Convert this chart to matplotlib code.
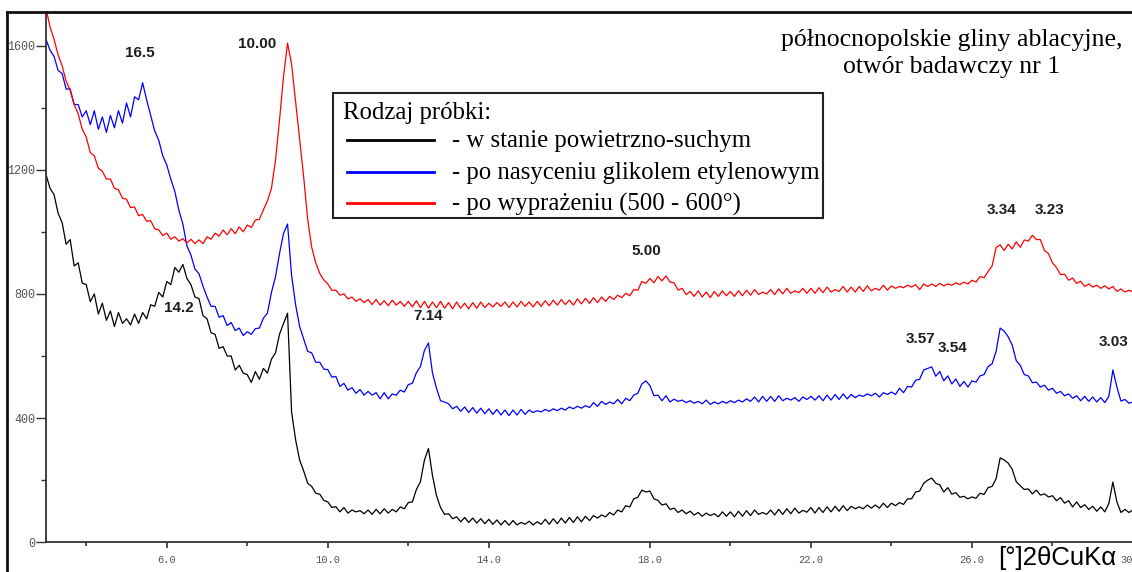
import numpy as np
import matplotlib
matplotlib.use("Agg")
from matplotlib import pyplot as plt
from matplotlib.lines import Line2D
from matplotlib.patches import Rectangle
from matplotlib.ticker import FixedLocator

# 2theta scan grid, 0.1 deg step
two_theta = np.round(np.arange(3.0, 30.05, 0.1), 1)

# air-dry sample (black)
air_dry = [
    1185, 1140, 1120, 1060, 1030, 960, 975, 890, 900, 835,
    830, 775, 800, 735, 770, 715, 745, 695, 740, 705,
    720, 700, 735, 705, 740, 720, 765, 760, 805, 790,
    840, 830, 885, 870, 895, 850, 830, 790, 785, 730,
    720, 675, 670, 625, 630, 600, 600, 555, 570, 545,
    540, 515, 550, 525, 560, 545, 590, 610, 670, 705,
    738, 420, 330, 265, 230, 190, 180, 158, 155, 135,
    130, 112, 115, 98, 112, 94, 104, 98, 102, 92,
    104, 90, 106, 92, 108, 94, 106, 98, 114, 108,
    128, 130, 170, 195, 265, 302, 215, 150, 112, 90,
    92, 76, 82, 66, 80, 64, 78, 62, 76, 60,
    74, 58, 72, 56, 70, 55, 70, 56, 64, 58,
    68, 56, 66, 58, 74, 58, 76, 60, 78, 62,
    80, 64, 82, 66, 84, 70, 86, 78, 88, 82,
    96, 88, 104, 98, 118, 114, 140, 145, 168, 162,
    165, 140, 135, 120, 124, 106, 110, 96, 104, 92,
    100, 88, 96, 84, 94, 86, 92, 82, 98, 84,
    98, 82, 100, 84, 102, 86, 104, 90, 96, 90,
    104, 88, 106, 90, 108, 92, 110, 94, 103, 97,
    112, 94, 112, 96, 114, 98, 116, 100, 118, 102,
    116, 108, 114, 108, 120, 110, 120, 110, 126, 112,
    126, 118, 128, 122, 140, 140, 162, 165, 190, 200,
    207, 190, 185, 162, 176, 155, 160, 145, 148, 140,
    146, 142, 158, 154, 176, 180, 205, 272, 265, 255,
    235, 195, 182, 170, 172, 156, 168, 152, 156, 146,
    150, 134, 144, 126, 134, 114, 130, 112, 121, 106,
    116, 100, 114, 98, 125, 194, 130, 96, 106, 96,
    104,
]

# ethylene glycol saturated (blue)
glycol = [
    1620, 1585, 1565, 1520, 1510, 1460, 1460, 1410, 1410, 1370,
    1390, 1345, 1390, 1330, 1370, 1320, 1375, 1335, 1390, 1350,
    1415, 1370, 1435, 1425, 1480, 1425, 1375, 1325, 1295, 1245,
    1215, 1170, 1130, 1070, 1025, 955, 925, 880, 865, 825,
    790, 760, 760, 725, 730, 698, 708, 682, 690, 666,
    678, 670, 688, 690, 722, 738, 805, 855, 930, 995,
    1025, 860, 765, 695, 655, 615, 610, 580, 580, 558,
    556, 532, 534, 502, 512, 490, 498, 480, 492, 474,
    486, 474, 482, 462, 482, 462, 478, 474, 490, 484,
    508, 512, 546, 566, 618, 642, 545, 496, 456, 452,
    446, 430, 438, 422, 436, 418, 434, 416, 432, 414,
    430, 412, 428, 410, 426, 408, 426, 410, 428, 412,
    426, 418, 424, 420, 428, 422, 430, 424, 432, 426,
    436, 430, 438, 432, 440, 434, 450, 438, 454, 444,
    452, 446, 460, 446, 464, 456, 474, 480, 510, 520,
    505, 472, 474, 456, 472, 452, 461, 454, 458, 450,
    456, 448, 454, 446, 458, 444, 452, 446, 454, 448,
    456, 450, 458, 452, 462, 454, 468, 452, 470, 454,
    470, 454, 472, 456, 464, 458, 466, 454, 468, 460,
    470, 458, 472, 456, 474, 458, 476, 460, 478, 462,
    476, 466, 474, 470, 478, 472, 480, 468, 482, 476,
    484, 476, 496, 482, 502, 500, 522, 525, 555, 560,
    565, 535, 550, 520, 536, 510, 526, 502, 518, 500,
    520, 516, 536, 540, 566, 575, 615, 690, 680, 662,
    635, 585, 570, 540, 536, 514, 516, 500, 506, 490,
    496, 480, 486, 472, 478, 464, 472, 456, 470, 454,
    468, 452, 466, 450, 470, 555, 500, 455, 460, 448,
    452,
]

# heated 500-600 C (red)
heated = [
    1720, 1660, 1620, 1570, 1535, 1485, 1455, 1410, 1380, 1330,
    1305, 1255, 1245, 1205, 1195, 1170, 1170, 1140, 1135, 1108,
    1105, 1078, 1080, 1052, 1056, 1034, 1036, 1010, 1006, 988,
    996, 976, 984, 970, 978, 964, 976, 962, 974, 962,
    984, 976, 996, 986, 1006, 990, 1010, 994, 1016, 1000,
    1022, 1014, 1038, 1040, 1071, 1100, 1140, 1230, 1360, 1500,
    1608, 1540, 1420, 1300, 1177, 1040, 950, 900, 866, 845,
    832, 812, 812, 796, 800, 784, 790, 776, 784, 772,
    782, 766, 782, 764, 778, 762, 780, 764, 776, 760,
    776, 758, 778, 756, 776, 754, 774, 756, 776, 754,
    772, 752, 774, 754, 770, 752, 772, 754, 774, 756,
    770, 758, 772, 760, 774, 756, 774, 758, 776, 760,
    774, 758, 776, 760, 778, 762, 780, 764, 782, 766,
    780, 764, 784, 768, 786, 770, 788, 772, 790, 776,
    792, 782, 796, 788, 802, 794, 814, 812, 840, 834,
    850, 836, 856, 842, 858, 838, 836, 812, 818, 798,
    808, 792, 810, 790, 806, 788, 808, 792, 810, 794,
    808, 792, 810, 794, 812, 796, 814, 798, 806, 800,
    814, 798, 816, 800, 818, 802, 810, 804, 818, 802,
    818, 802, 820, 804, 822, 806, 814, 808, 824, 806,
    822, 806, 824, 808, 826, 810, 818, 812, 828, 812,
    826, 818, 824, 820, 828, 822, 830, 814, 832, 824,
    832, 824, 834, 826, 832, 828, 836, 830, 838, 832,
    844, 838, 856, 852, 872, 890, 950, 958, 940, 960,
    945, 968, 950, 974, 970, 989, 975, 975, 940, 930,
    900, 885, 862, 864, 844, 851, 834, 841, 824, 832,
    822, 828, 818, 826, 816, 824, 808, 816, 806, 812,
    806,
]

peak_labels = ["16.5", "10.00", "14.2", "7.14", "5.00",
               "3.34", "3.23", "3.57", "3.54", "3.03"]
legend_title = "Rodzaj próbki:"
legend_labels = ["- w stanie powietrzno-suchym",
                 "- po nasyceniu glikolem etylenowym",
                 "- po wyprażeniu (500 - 600°)"]
colors = ["black", "blue", "red"]
x_major = [6, 10, 14, 18, 22, 26, 30]
x_minor = [4, 8, 12, 16, 20, 24, 28]
y_major = [0, 400, 800, 1200, 1600]
y_minor = [200, 600, 1000, 1400]

W, H = 1132, 572


def fx(px):
    return px / W


def fy(py):
    return 1 - py / H


fig = plt.figure(figsize=(W / 100, H / 100), dpi=100)

# outer frame (left and top edges visible)
fig.add_artist(Line2D([fx(7), fx(7)], [fy(12), 0], color="#111111", lw=2))
fig.add_artist(Line2D([fx(7), 1], [fy(12), fy(12)], color="#111111", lw=2))

ax = fig.add_axes([fx(46), fy(542.3), fx(1133) - fx(46), fy(12) - fy(542.3)])
ax.set_facecolor("none")

for ys, c in zip([air_dry, glycol, heated], colors):
    ax.plot(two_theta, ys, color=c, lw=0.9)

ax.set_xlim(3.0, 30.0)
ax.set_ylim(0, 1708)
ax.spines["top"].set_visible(False)
ax.spines["right"].set_visible(False)
for s in ["left", "bottom"]:
    ax.spines[s].set_linewidth(1.3)
    ax.spines[s].set_color("#333333")

ax.xaxis.set_major_locator(FixedLocator(x_major))
ax.xaxis.set_minor_locator(FixedLocator(x_minor))
ax.yaxis.set_major_locator(FixedLocator(y_major))
ax.yaxis.set_minor_locator(FixedLocator(y_minor))
ax.set_xticklabels(["%.1f" % v for v in x_major])
ax.set_yticklabels([str(v) for v in y_major])
ax.tick_params(axis="x", which="major", length=4, width=1.2, color="#333333", pad=5)
ax.tick_params(axis="x", which="minor", length=3, width=1.2, color="#333333")
ax.tick_params(axis="y", which="major", length=7, width=1.0, color="#333333", pad=1)
ax.tick_params(axis="y", which="minor", length=3.5, width=1.0, color="#333333")
for lab in ax.get_xticklabels():
    lab.set_fontfamily("Liberation Mono")
    lab.set_fontsize(7.5)
    lab.set_color("#555555")
for lab in ax.get_yticklabels():
    lab.set_fontfamily("Liberation Mono")
    lab.set_fontsize(8.5)
    lab.set_color("#555555")

# peak d-spacing labels
label_pos = [(140, 53), (257, 44), (179, 308), (428, 316), (646, 251),
             (1002, 210), (1050, 210), (920, 339), (953, 348), (1114, 342)]
for t, (px, py) in zip(peak_labels, label_pos):
    fig.text(fx(px), fy(py), t, ha="center", va="center", fontsize=11,
             fontweight="bold", family="Liberation Sans", color="#1e1e1e")

# title top right
fig.text(fx(952), fy(40), "północnopolskie gliny ablacyjne,", ha="center",
         va="center", fontsize=18.5, family="Liberation Serif")
fig.text(fx(952), fy(67), "otwór badawczy nr 1", ha="center",
         va="center", fontsize=18.5, family="Liberation Serif")

# legend box
fig.add_artist(Rectangle((fx(333), fy(218)), fx(823) - fx(333), fy(93) - fy(218),
                         transform=fig.transFigure, fill=True, facecolor="white",
                         edgecolor="#222222", lw=1.5))
fig.text(fx(343), fy(113), legend_title, ha="left", va="center",
         fontsize=17.8, family="Liberation Serif")
for lab, c, py in zip(legend_labels, colors, [140, 172, 203]):
    fig.add_artist(Line2D([fx(347), fx(434)], [fy(py), fy(py)], color=c, lw=2))
    fig.text(fx(452), fy(py + 1), lab, ha="left", va="center",
             fontsize=17.8, family="Liberation Serif")

# x axis label
fig.text(fx(1057), fy(558), "[°]2θCuKα", ha="center", va="center",
         fontsize=18.5, family="Liberation Sans")

fig.savefig("out.png", dpi=100)
